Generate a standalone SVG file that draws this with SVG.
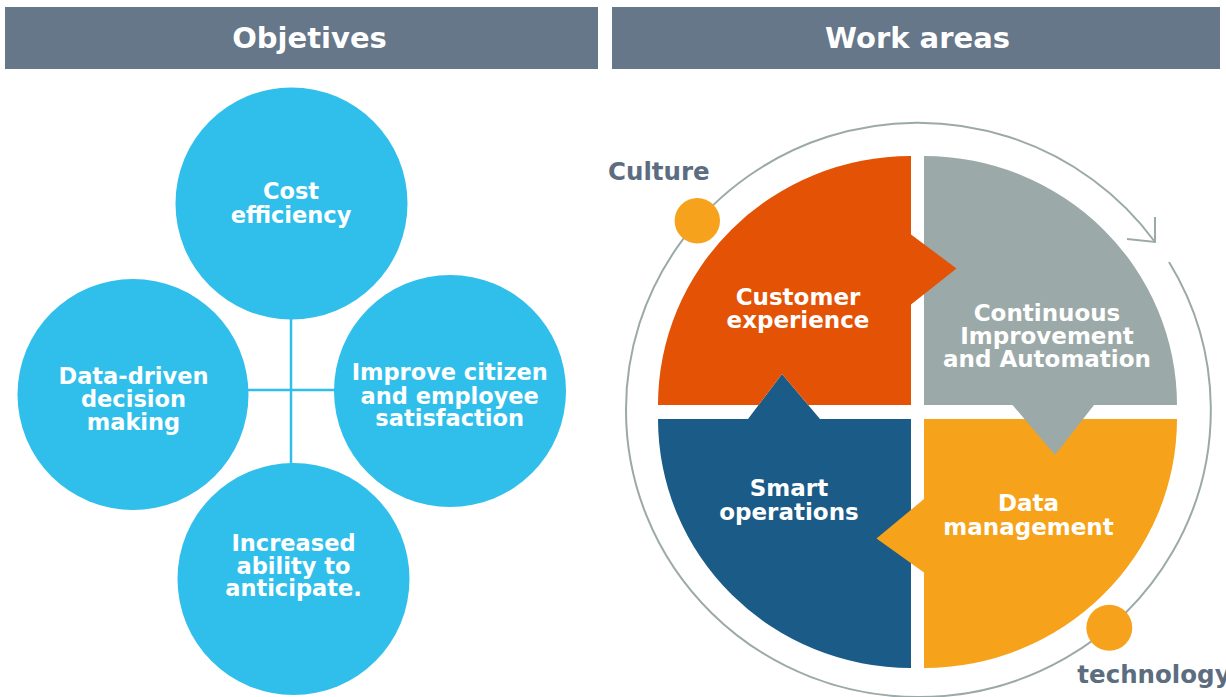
<svg xmlns="http://www.w3.org/2000/svg" width="1226" height="697" viewBox="0 0 1226 697">
<style>
.hdr{fill:#657789}
.hdrt{font-family:"DejaVu Sans",sans-serif;font-weight:bold;font-size:29px;fill:#fff;text-anchor:middle}
.obj{fill:#30BFEB}
.t{font-family:"DejaVu Sans",sans-serif;font-weight:bold;font-size:22.5px;fill:#fff;text-anchor:middle}
.q{font-family:"DejaVu Sans",sans-serif;font-weight:bold;font-size:23px;fill:#fff;text-anchor:middle}
.lbl{font-family:"DejaVu Sans",sans-serif;font-weight:bold;font-size:24.5px;fill:#5C6D80}
.conn{stroke:#30BFEB;stroke-width:2.5;fill:none}
.ring{stroke:#9CA9A9;stroke-width:2;fill:none}
.dot{fill:#F6A21D}
</style>
<rect width="1226" height="697" fill="#fff"/>
<g id="header-objectives"><rect class="hdr" x="5" y="7" width="593" height="62"/><text class="hdrt" x="309.5" y="48.3">Objetives</text></g>
<g id="header-work-areas"><rect class="hdr" x="612" y="7" width="608" height="62"/><text class="hdrt" x="917.5" y="48.3">Work areas</text></g>
<g id="connectors">
<line class="conn" x1="291" y1="316" x2="291" y2="466"/>
<line class="conn" x1="247" y1="390" x2="336" y2="390"/>
</g>
<g id="obj-cost"><circle class="obj" cx="291.5" cy="203.5" r="116"/><text class="t" x="291" y="199">Cost</text><text class="t" x="291" y="222.5">efficiency</text></g>
<g id="obj-data"><circle class="obj" cx="133" cy="394.5" r="115.5"/><text class="t" x="133.5" y="383.8">Data-driven</text><text class="t" x="133.5" y="406.6">decision</text><text class="t" x="133.5" y="429.5">making</text></g>
<g id="obj-improve"><circle class="obj" cx="450" cy="391" r="116"/><text class="t" x="449.7" y="380">Improve citizen</text><text class="t" x="449.7" y="403.5">and employee</text><text class="t" x="449.7" y="426.3">satisfaction</text></g>
<g id="obj-anticipate"><circle class="obj" cx="293.5" cy="579" r="116"/><text class="t" x="293.5" y="551">Increased</text><text class="t" x="293.5" y="574">ability to</text><text class="t" x="293.5" y="596.3">anticipate.</text></g>
<g id="ring">
<path class="ring" d="M 1169 262 A 292 287 0 0 1 918 697 A 292 287 0 0 1 626 410 A 292 287 0 0 1 1155 242"/>
<polyline class="ring" points="1155,217 1155,242 1127,239"/>
</g>
<g id="smart-operations"><path fill="#1B5B87" d="M 911 419 L 911 668 A 253 249 0 0 1 658 419 L 748 419 L 782 374 L 820 419 Z"/><text class="q" x="789" y="496">Smart</text><text class="q" x="789" y="520.4">operations</text></g>
<g id="data-management"><path fill="#F6A31B" d="M 924 419 L 1177 419 A 253 249 0 0 1 924 668 L 924 572.5 L 876.5 538.5 L 924 499 Z"/><text class="q" x="1028.5" y="511">Data</text><text class="q" x="1028.5" y="535">management</text></g>
<g id="continuous-improvement"><path fill="#9CA9A9" d="M 924 405 L 924 156 A 253 249 0 0 1 1177 405 L 1094 405 L 1055 455 L 1012.5 405 Z"/><text class="q" x="1047" y="320.6">Continuous</text><text class="q" x="1047" y="343.8">Improvement</text><text class="q" x="1047" y="367.3">and Automation</text></g>
<g id="customer-experience"><path fill="#E35205" d="M 911 405 L 808.2 405 L 782 374 L 758.6 405 L 658 405 A 253 249 0 0 1 911 156 L 911 234.5 L 956.5 268.5 L 911 304.5 Z"/><text class="q" x="798" y="305">Customer</text><text class="q" x="798" y="328">experience</text></g>
<g id="culture"><circle class="dot" cx="697.3" cy="220.7" r="22.7"/><text class="lbl" x="608" y="180">Culture</text></g>
<g id="technology"><circle class="dot" cx="1109.3" cy="627.7" r="23"/><text class="lbl" x="1077.3" y="683.3">technology</text></g>
</svg>
